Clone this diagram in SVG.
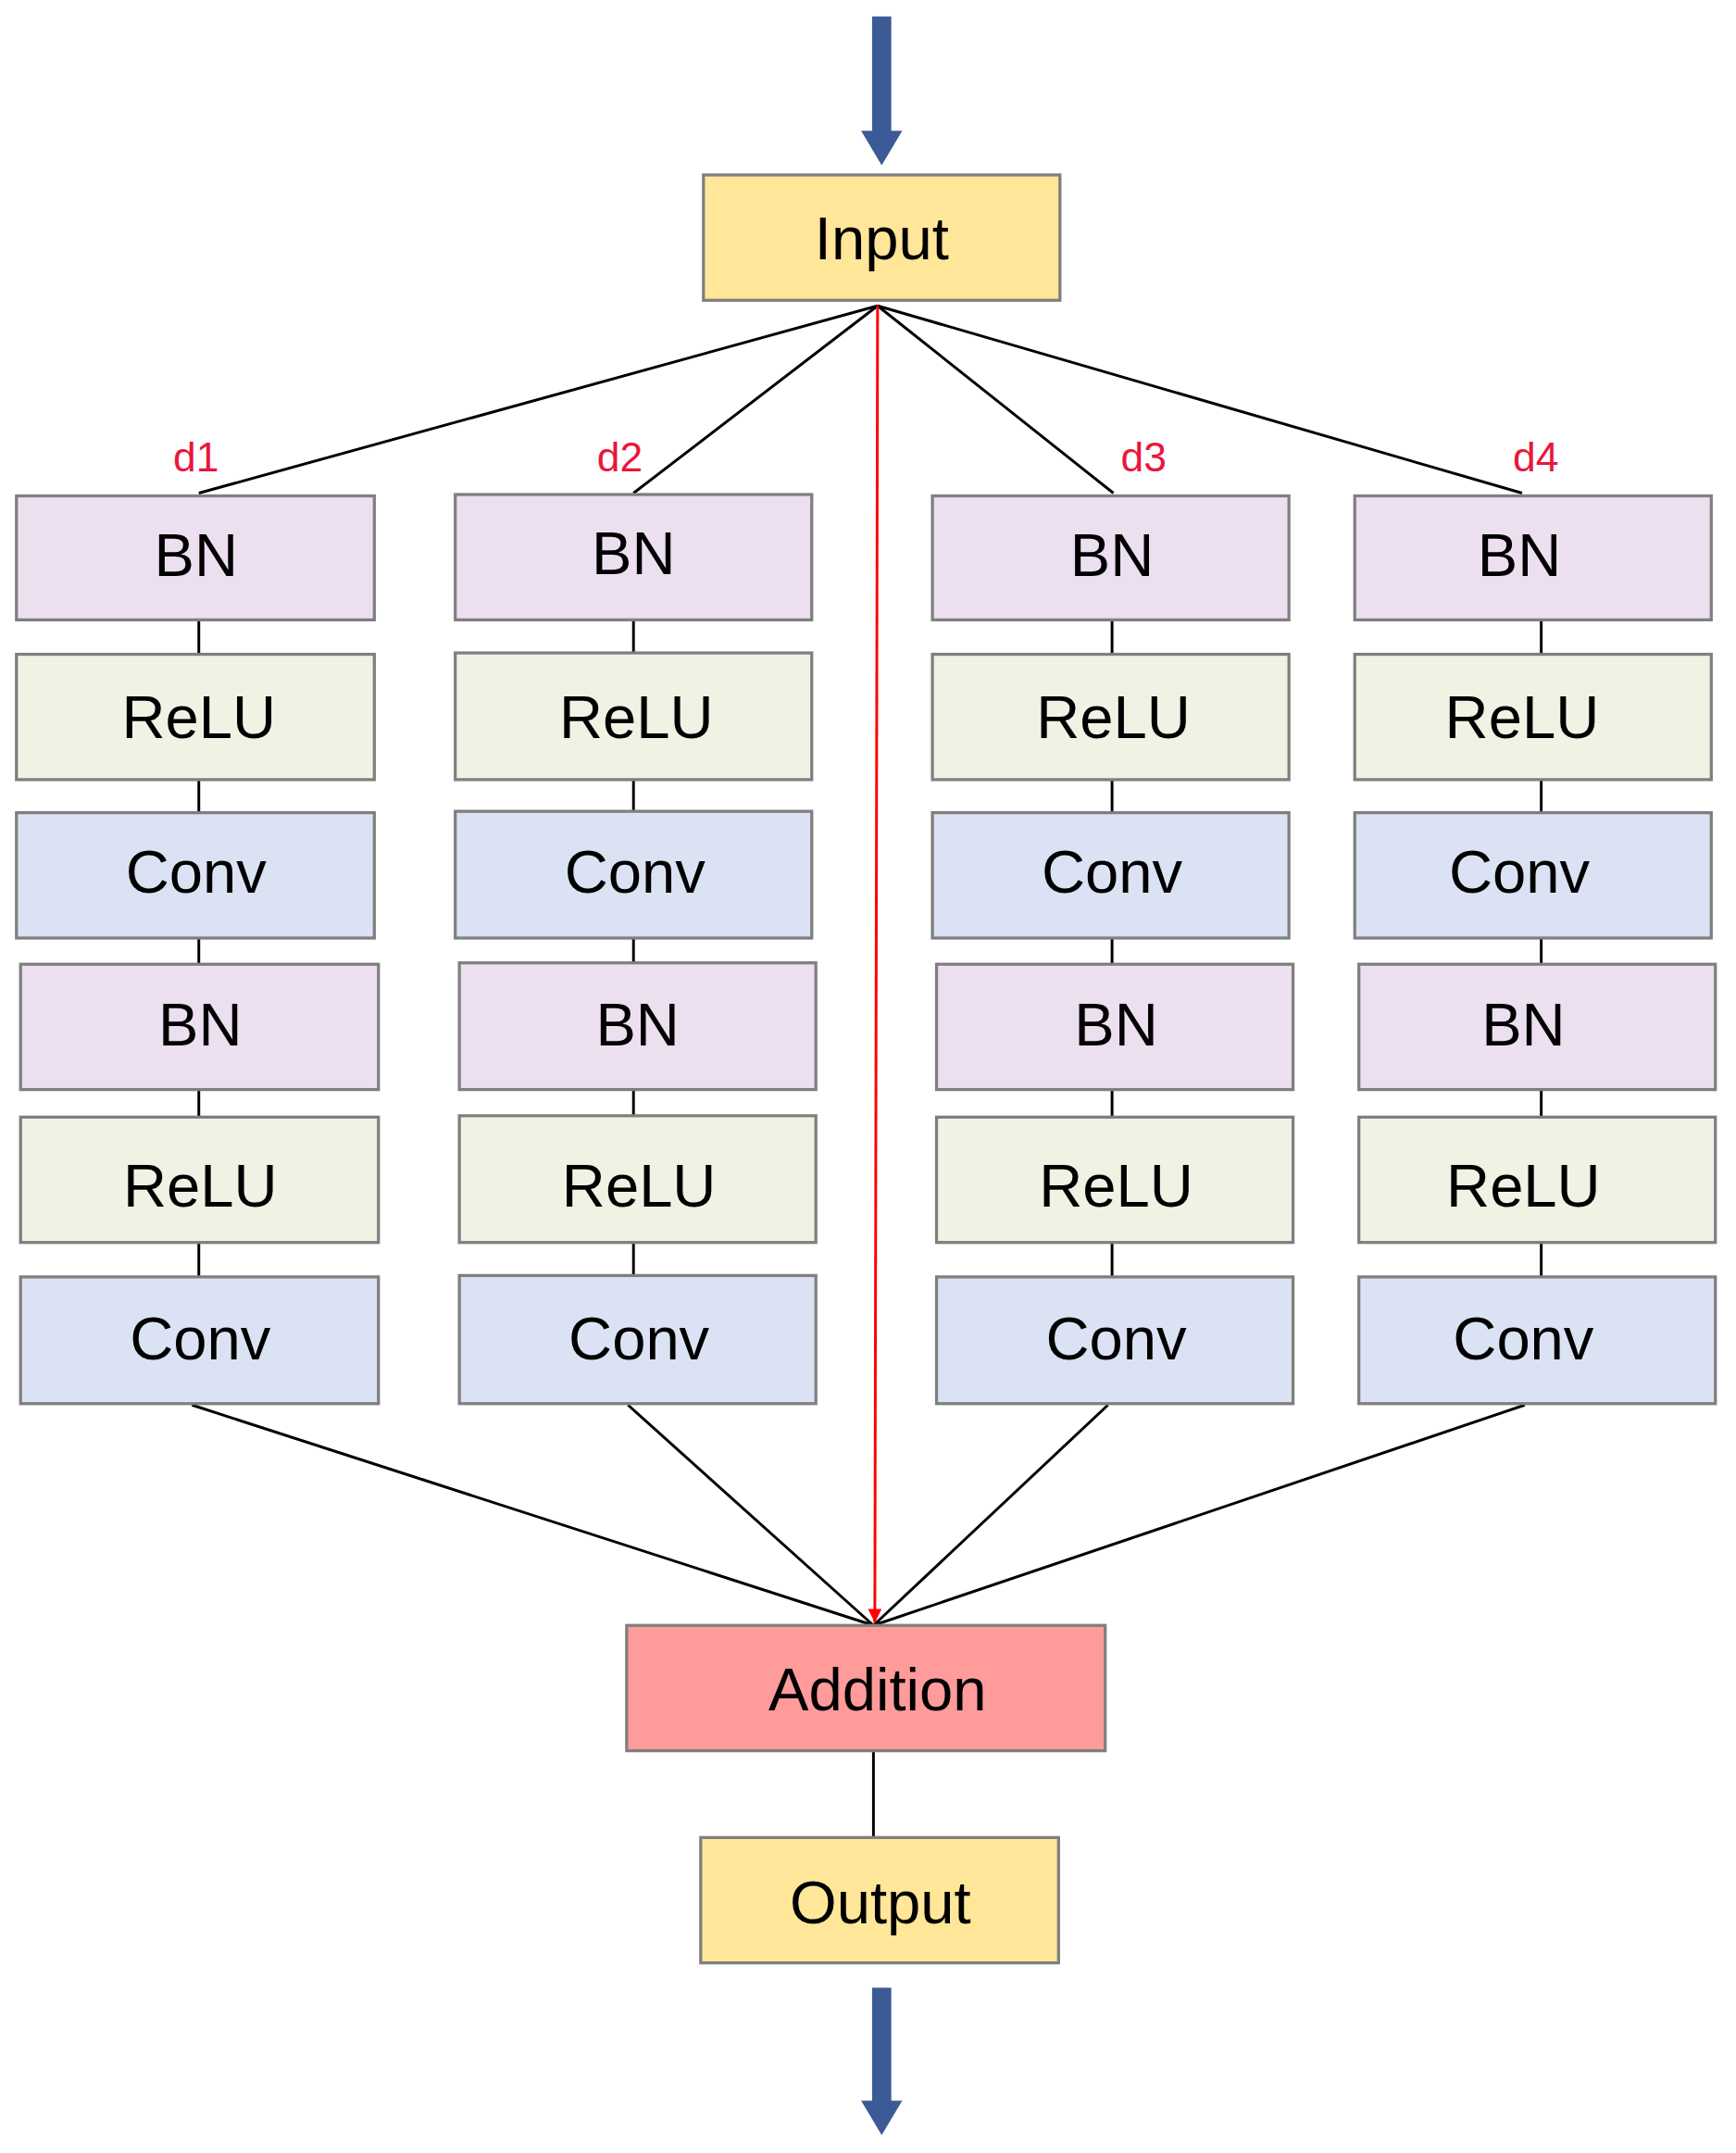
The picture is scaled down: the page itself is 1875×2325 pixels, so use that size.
<svg xmlns="http://www.w3.org/2000/svg" width="1875" height="2325" viewBox="0 0 1875 2325">
<defs>
<style>
.b{stroke:#7f7f7f;stroke-width:2.2}
.bn{fill:#ecdff0}.re{fill:#eff3e4}.cv{fill:#dbe2f3}.io{fill:#ffe699}.ad{fill:#ff9b9b}
text{font-family:"Liberation Sans","DejaVu Sans",sans-serif;font-size:44px;text-anchor:middle;fill:#000}
.d{font-size:30px;fill:#e8173c}
.l{stroke:#000;stroke-width:2;fill:none}
</style>
<marker id="ra" viewBox="0 0 10 10" refX="10" refY="5" markerWidth="5" markerHeight="5" orient="auto"><path d="M0,0L10,5L0,10z" fill="#ff0000"/></marker>
</defs>
<rect width="1875" height="2325" fill="#fff"/>
<g transform="scale(1.481 1.4875)">
<g id="connectors">
<path class="l" d="M640,222L145,358M640,222L462,358M640,222L812,358M640,222L1110,358"/>
<path class="l" d="M140,1020L637,1180M458,1020L637,1180M808,1020L637,1180M1112,1020L637,1180"/>
<path class="l" d="M637,1271V1334"/>
<path d="M640,222L638,1178" stroke="#ff0000" stroke-width="2" marker-end="url(#ra)"/>
<path class="l" d="M145,450V475M145,566V590M145,681V700M145,791V811M145,902V927"/>
<path class="l" d="M462,450V475M462,566V590M462,681V700M462,791V811M462,902V927"/>
<path class="l" d="M811,450V475M811,566V590M811,681V700M811,791V811M811,902V927"/>
<path class="l" d="M1124,450V475M1124,566V590M1124,681V700M1124,791V811M1124,902V927"/>
<path d="M636,12H650V95H658L643,120L628,95H636z" fill="#3c5a96"/>
<path d="M636,1443H650V1525H658L643,1550L628,1525H636z" fill="#3c5a96"/>
</g>
<g id="input"><rect class="b io" x="513" y="127" width="260" height="91"/><text x="643" y="188">Input</text></g>
<g id="addition"><rect class="b ad" x="457" y="1180" width="349" height="91"/><text x="640" y="1242">Addition</text></g>
<g id="output"><rect class="b io" x="511" y="1334" width="261" height="91"/><text x="642" y="1396">Output</text></g>
<g id="labels"><text class="d" x="143" y="342">d1</text><text class="d" x="452" y="342">d2</text><text class="d" x="834" y="342">d3</text><text class="d" x="1120" y="342">d4</text></g>
<g id="col1">
<rect class="b bn" x="12" y="360" width="261" height="90"/><text x="143" y="418">BN</text>
<rect class="b re" x="12" y="475" width="261" height="91"/><text x="145" y="536">ReLU</text>
<rect class="b cv" x="12" y="590" width="261" height="91"/><text x="143" y="648">Conv</text>
<rect class="b bn" x="15" y="700" width="261" height="91"/><text x="146" y="759">BN</text>
<rect class="b re" x="15" y="811" width="261" height="91"/><text x="146" y="876">ReLU</text>
<rect class="b cv" x="15" y="927" width="261" height="92"/><text x="146" y="987">Conv</text>
</g>
<g id="col2">
<rect class="b bn" x="332" y="359" width="260" height="91"/><text x="462" y="417">BN</text>
<rect class="b re" x="332" y="474" width="260" height="92"/><text x="464" y="536">ReLU</text>
<rect class="b cv" x="332" y="589" width="260" height="92"/><text x="463" y="648">Conv</text>
<rect class="b bn" x="335" y="699" width="260" height="92"/><text x="465" y="759">BN</text>
<rect class="b re" x="335" y="810" width="260" height="92"/><text x="466" y="876">ReLU</text>
<rect class="b cv" x="335" y="926" width="260" height="93"/><text x="466" y="987">Conv</text>
</g>
<g id="col3">
<rect class="b bn" x="680" y="360" width="260" height="90"/><text x="811" y="418">BN</text>
<rect class="b re" x="680" y="475" width="260" height="91"/><text x="812" y="536">ReLU</text>
<rect class="b cv" x="680" y="590" width="260" height="91"/><text x="811" y="648">Conv</text>
<rect class="b bn" x="683" y="700" width="260" height="91"/><text x="814" y="759">BN</text>
<rect class="b re" x="683" y="811" width="260" height="91"/><text x="814" y="876">ReLU</text>
<rect class="b cv" x="683" y="927" width="260" height="92"/><text x="814" y="987">Conv</text>
</g>
<g id="col4">
<rect class="b bn" x="988" y="360" width="260" height="90"/><text x="1108" y="418">BN</text>
<rect class="b re" x="988" y="475" width="260" height="91"/><text x="1110" y="536">ReLU</text>
<rect class="b cv" x="988" y="590" width="260" height="91"/><text x="1108" y="648">Conv</text>
<rect class="b bn" x="991" y="700" width="260" height="91"/><text x="1111" y="759">BN</text>
<rect class="b re" x="991" y="811" width="260" height="91"/><text x="1111" y="876">ReLU</text>
<rect class="b cv" x="991" y="927" width="260" height="92"/><text x="1111" y="987">Conv</text>
</g>
</g>
</svg>
